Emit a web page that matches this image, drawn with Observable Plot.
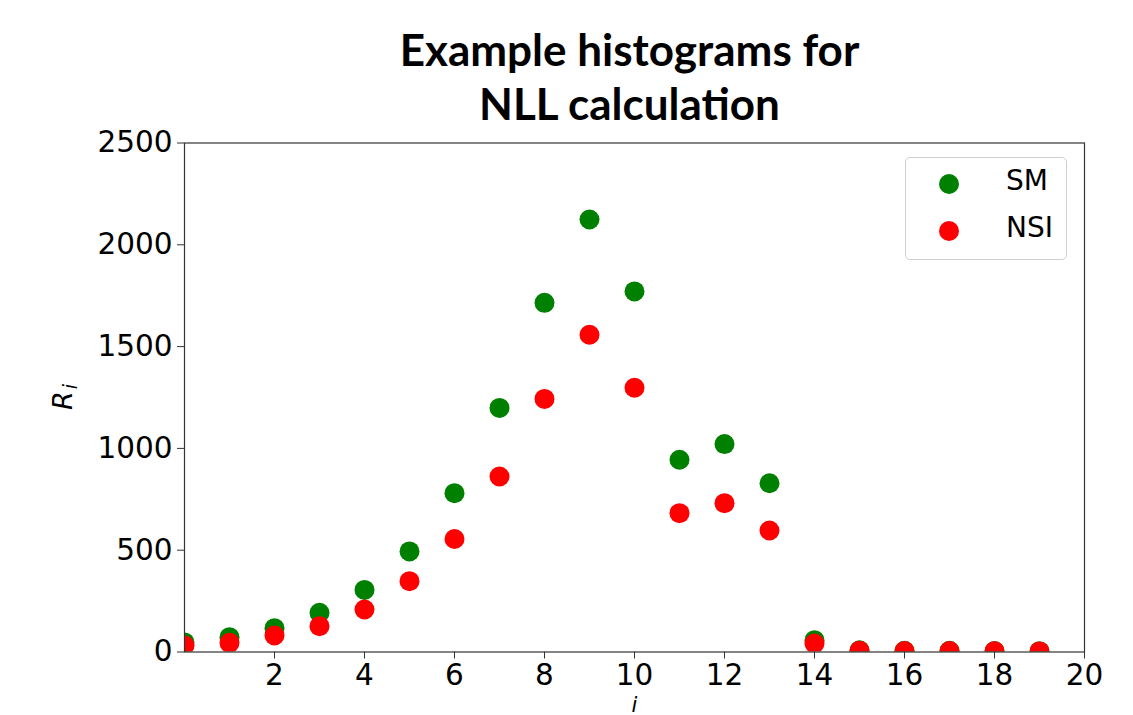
<!DOCTYPE html>
<html>
<head>
<meta charset="utf-8">
<script src="https://cdn.jsdelivr.net/npm/d3@7"></script>
<script src="https://cdn.jsdelivr.net/npm/@observablehq/plot@0.6"></script>
<style>
  html, body { margin: 0; padding: 0; background: #fff; }
  #wrap { position: relative; width: 1133px; height: 715px; overflow: hidden; }
  #title {
    height: 110px; box-sizing: border-box; padding-top: 22px;
    width: 1133px; text-align: center; padding-left: 126px;
    font-family: Lato, "Open Sans", sans-serif; font-weight: 700;
    font-size: 44px; line-height: 54px; color: #000;
    position: relative; z-index: 1; overflow: visible; white-space: nowrap;
  }
  #legend {
    position: absolute; left: 905px; top: 157px; width: 160px; height: 101px;
    border: 1px solid #d0d0d0; border-radius: 5px; background: #fff;
    font-family: "DejaVu Sans", sans-serif; font-size: 28px; color: #000;
  }
  .row { position: absolute; left: 0; height: 40px; }
  .sw { position: absolute; left: 33px; width: 20px; height: 20px; border-radius: 50%; }
  .lab { position: absolute; left: 100px; }
</style>
</head>
<body>
<div id="wrap">
  <div id="title">Example histograms for<br>NLL calculation</div>
  <div id="chart"></div>
  <div id="legend"></div>
</div>
<script>
const bins = [0,1,2,3,4,5,6,7,8,9,10,11,12,13,14,15,16,17,18,19];
const smValues = [47,73,117,193,305,494,780,1199,1715,2124,1771,944,1021,829,58,8,6,6,5,4];
const nsiValues = [32,45,81,127,209,348,555,862,1243,1558,1298,682,731,597,42,6,5,5,4,3];
const seriesNames = ["SM", "NSI"];
const seriesColors = ["#008000", "#ff0000"];
const xTicks = [2,4,6,8,10,12,14,16,18,20];
const yTicks = [0,500,1000,1500,2000,2500];

const rows = [];
bins.forEach((b, k) => rows.push({i: b, R: smValues[k], s: "SM"}));
bins.forEach((b, k) => rows.push({i: b, R: nsiValues[k], s: "NSI"}));

const plot = Plot.plot({
  width: 1133,
  height: 605,
  marginTop: 32.5,
  marginBottom: 63.5,
  marginLeft: 184,
  marginRight: 49,
  style: {fontFamily: "'DejaVu Sans', sans-serif", fontSize: "29.5px", color: "#000", background: "transparent"},
  x: {domain: [0, 20]},
  y: {domain: [0, 2500]},
  color: {domain: seriesNames, range: seriesColors},
  marks: [
    Plot.dot(rows, {x: "i", y: "R", fill: "s", r: 10, clip: true}),
    Plot.frame({stroke: "#333", strokeWidth: 1.2}),
    Plot.axisX({ticks: xTicks, tickSize: 7, tickPadding: 5, label: null, stroke: "#333", tickFormat: d => String(d)}),
    Plot.axisY({ticks: yTicks, tickSize: 7, tickPadding: 5, label: null, stroke: "#333", tickFormat: d => String(d)}),
    Plot.text(["i"], {frameAnchor: "bottom", dy: 45, textAnchor: "middle", lineAnchor: "top", fontStyle: "italic", fontSize: 21, fill: "#000"})
  ]
});
document.getElementById("chart").appendChild(plot);

// y axis label R_i with subscript
const svg = d3.select(plot);
const yl = svg.append("text")
  .attr("transform", "translate(72,287) rotate(-90)")
  .attr("text-anchor", "middle")
  .attr("font-family", "'DejaVu Sans', sans-serif")
  .attr("font-style", "italic")
  .attr("font-size", 27)
  .attr("fill", "#000");
yl.append("tspan").text("R");
yl.append("tspan").attr("font-size", 19).attr("dx", 2).attr("dy", 5).text("i");

// legend
const leg = d3.select("#legend");
seriesNames.forEach((name, k) => {
  const row = leg.append("div").attr("class", "row").style("top", (k === 0 ? 6 : 53) + "px");
  row.append("div").attr("class", "sw").style("top", "10px").style("background", seriesColors[k]);
  row.append("div").attr("class", "lab").style("top", "0px").text(name);
});
</script>
</body>
</html>
